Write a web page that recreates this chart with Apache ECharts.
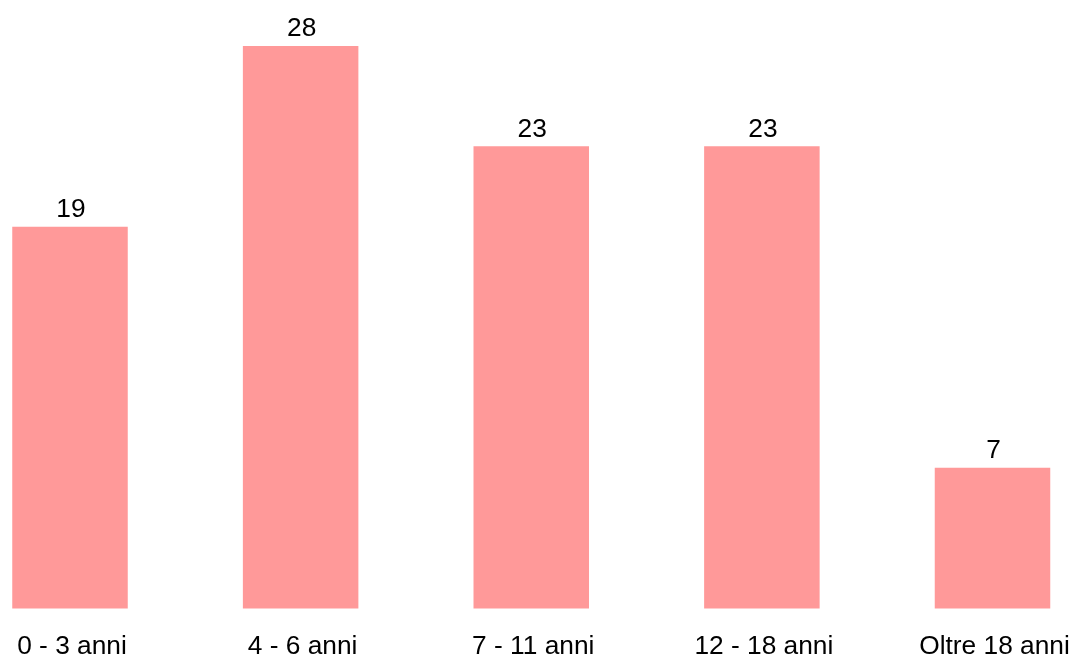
<!DOCTYPE html>
<html>
<head>
<meta charset="utf-8">
<script src="https://cdn.jsdelivr.net/npm/echarts@6/dist/echarts.min.js"></script>
<style>html,body{margin:0;padding:0;background:#fff;}#c{width:1075px;height:660px;}</style>
</head>
<body>
<div id="c"></div>
<script>
var categories = ['0 - 3 anni', '4 - 6 anni', '7 - 11 anni', '12 - 18 anni', 'Oltre 18 anni'];
var values = [19, 28, 23, 23, 7];

var chart = echarts.init(document.getElementById('c'), null, {renderer: 'canvas'});
chart.setOption({
  animation: false,
  grid: {left: 70, right: 82.5, top: 5.7, bottom: 49.5, containLabel: false},
  xAxis: {
    type: 'category',
    data: categories,
    boundaryGap: false,
    axisLine: {show: false},
    axisTick: {show: false},
    axisLabel: {fontFamily: 'Liberation Sans', fontSize: 26.3, color: '#000', margin: 25.5, interval: 0, padding: [0, 0, 0, 4]}
  },
  yAxis: {
    type: 'value',
    min: 0, max: 30,
    show: false,
    splitLine: {show: false}
  },
  series: [{
    type: 'bar',
    data: values,
    barWidth: 115.5,
    itemStyle: {color: '#FF9999'},
    label: {show: true, position: 'top', distance: 4, fontFamily: 'Liberation Sans', fontSize: 26.3, color: '#000', padding: [0, 0, 0, 2]}
  }]
});
</script>
</body>
</html>
